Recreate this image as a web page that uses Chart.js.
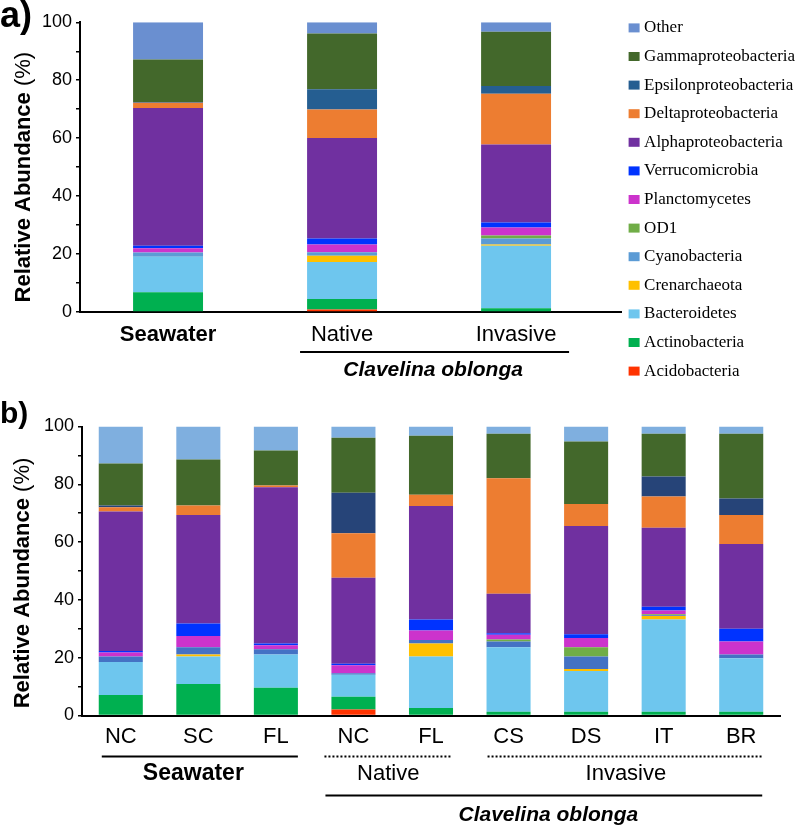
<!DOCTYPE html>
<html>
<head>
<meta charset="utf-8">
<title>Relative abundance</title>
<script src="https://cdn.jsdelivr.net/npm/chart.js@4.4.1/dist/chart.umd.min.js"></script>
<style>
  html, body { margin: 0; padding: 0; background: #fff; }
  #wrap { position: relative; width: 800px; height: 829px; overflow: hidden; }
  canvas { position: absolute; left: 0; }
  #chartA { top: 0; }
  #chartB { top: 399px; }
</style>
</head>
<body>
<div id="wrap">
  <canvas id="chartA" width="800" height="399"></canvas>
  <canvas id="chartB" width="800" height="430"></canvas>
</div>
<script>
// Taxa, listed from the bottom of each stack to the top
const taxa = ['Acidobacteria', 'Actinobacteria', 'Bacteroidetes', 'Crenarchaeota', 'Cyanobacteria', 'OD1',
  'Planctomycetes', 'Verrucomicrobia', 'Alphaproteobacteria', 'Deltaproteobacteria',
  'Epsilonproteobacteria', 'Gammaproteobacteria', 'Other'];
const coloursA = ['#ff3300', '#00b050', '#6ec6ee', '#ffc000', '#5b9bd5', '#70ad47',
  '#cc33cc', '#0033ff', '#7030a0', '#ed7d31', '#255e91', '#43682b', '#6a8fd0'];
const coloursB = ['#ff3300', '#00b050', '#6ec6ee', '#ffc000', '#4472c4', '#70ad47',
  '#cc33cc', '#0033ff', '#7030a0', '#ed7d31', '#264478', '#43682b', '#7fafdf'];

// a) pooled samples (%), same order as taxa
const sitesA = ['Seawater', 'Native', 'Invasive'];
const seawater = [0, 6.8, 12.3, 0, 1.4, 0, 1.5, 0.9, 47.5, 1.8, 0.3, 14.7, 12.8];
const native = [0.9, 3.6, 12.8, 2.1, 1.2, 0, 2.7, 2.1, 34.7, 9.8, 7.0, 19.2, 3.9];
const invasive = [0, 1.3, 21.6, 0.4, 2.1, 1.0, 2.8, 1.7, 26.9, 17.5, 2.7, 18.7, 3.3];

// b) individual sites (%)
const sitesB = ['NC', 'SC', 'FL', 'NC', 'FL', 'CS', 'DS', 'IT', 'BR'];
const swNC = [0, 7.1, 11.4, 0, 1.9, 0, 1.4, 0.5, 48.3, 1.5, 0.6, 14.5, 12.8];
const swSC = [0, 10.9, 9.5, 0.7, 2.5, 0, 3.9, 4.3, 37.6, 3.3, 0, 15.9, 11.4];
const swFL = [0, 9.6, 11.5, 0, 1.8, 0, 1.4, 0.6, 54.1, 0.6, 0, 12.1, 8.3];
const natNC = [2.1, 4.4, 7.6, 0, 0.5, 0, 2.8, 0.5, 29.8, 15.4, 14.0, 19.0, 3.9];
const natFL = [0, 2.6, 17.8, 4.5, 1.2, 0, 3.3, 3.8, 39.3, 3.9, 0, 20.4, 3.2];
const invCS = [0, 1.3, 22.3, 0, 2.0, 0.7, 1.6, 0.6, 13.6, 40.0, 0, 15.4, 2.5];
const invDS = [0, 1.3, 14.1, 0.7, 4.3, 3.2, 3.2, 1.3, 37.5, 7.6, 0, 21.6, 5.2];
const invIT = [0, 1.3, 31.9, 1.2, 0.3, 0.3, 1.3, 1.3, 27.4, 10.8, 6.9, 14.8, 2.5];
const invBR = [0, 1.3, 18.5, 0, 1.3, 0, 4.5, 4.4, 29.3, 10.1, 5.7, 22.4, 2.5];

const yTicks = [0, 20, 40, 60, 80, 100];

const SANS = '"Liberation Sans", Arial, Helvetica, sans-serif';
const SERIF = '"Liberation Serif", "Times New Roman", serif';
Chart.defaults.font.family = SANS;
Chart.defaults.color = '#000';

function buildDatasets(samples, colours, asPoints) {
  return taxa.map((name, t) => ({
    label: name,
    data: samples.map((s, i) => asPoints ? { x: i, y: s[t] } : s[t]),
    backgroundColor: colours[t],
    borderWidth: 0
  }));
}

function yAxis(width, font) {
  return {
    stacked: true,
    min: 0,
    max: 100,
    afterFit: s => { s.width = width; },
    grid: { drawOnChartArea: false, drawTicks: true, tickLength: 4, color: '#000', lineWidth: 1.5 },
    border: { display: true, color: '#000', width: 2 },
    ticks: {
      stepSize: 10,
      autoSkip: false,
      padding: 4,
      font: font,
      callback: v => yTicks.includes(v) ? v : ''
    }
  };
}

// rotated axis title, bold words followed by a plain "(%)"
function drawYTitle(ctx, cx, cy) {
  const bold = `bold 22px ${SANS}`, plain = `22px ${SANS}`;
  const first = 'Relative Abundance ', second = '(%)';
  ctx.save();
  ctx.font = bold;
  const w1 = ctx.measureText(first).width;
  ctx.font = plain;
  const w2 = ctx.measureText(second).width;
  ctx.translate(cx, cy);
  ctx.rotate(-Math.PI / 2);
  ctx.textAlign = 'left';
  ctx.textBaseline = 'middle';
  ctx.fillStyle = '#000';
  const sx = -(w1 + w2) / 2;
  ctx.font = bold;
  ctx.fillText(first, sx, 0);
  ctx.font = plain;
  ctx.fillText(second, sx + w1, 0);
  ctx.restore();
}

function hLine(ctx, x1, x2, y, dotted) {
  ctx.save();
  ctx.strokeStyle = '#000';
  ctx.lineWidth = 2;
  if (dotted) ctx.setLineDash([2, 2]);
  ctx.beginPath();
  ctx.moveTo(x1, y);
  ctx.lineTo(x2, y);
  ctx.stroke();
  ctx.restore();
}

function label(ctx, text, x, y, font) {
  ctx.save();
  ctx.font = font;
  ctx.fillStyle = '#000';
  ctx.textAlign = 'center';
  ctx.textBaseline = 'middle';
  ctx.fillText(text, x, y);
  ctx.restore();
}

const annotateA = {
  id: 'annotateA',
  afterDraw(chart) {
    const { ctx, chartArea: a, scales: { x } } = chart;
    ctx.save();
    ctx.fillStyle = '#000';
    ctx.font = `bold 36px ${SANS}`;
    ctx.textBaseline = 'alphabetic';
    ctx.fillText('a)', 0, 27);
    ctx.restore();
    drawYTitle(ctx, 24, (a.top + a.bottom) / 2 + 10);
    const nat = x.getPixelForValue(1), inv = x.getPixelForValue(2);
    hLine(ctx, nat - 42, inv + 53, a.bottom + 40, false);
    label(ctx, 'Clavelina oblonga', (nat + inv) / 2 + 4, a.bottom + 58, `italic bold 21px ${SANS}`);
  }
};

const annotateB = {
  id: 'annotateB',
  afterDraw(chart) {
    const { ctx, chartArea: a, scales: { x } } = chart;
    const px = i => x.getPixelForValue(i);
    ctx.save();
    ctx.fillStyle = '#000';
    ctx.font = `bold 30px ${SANS}`;
    ctx.textBaseline = 'alphabetic';
    ctx.fillText('b)', 0, 24);
    ctx.restore();
    drawYTitle(ctx, 23, (a.top + a.bottom) / 2 + 12);

    const y1 = a.bottom + 41, t1 = a.bottom + 58.5;
    const y2 = a.bottom + 80, t2 = a.bottom + 99.5;
    hLine(ctx, px(0) - 19, px(2) + 22, y1, false);
    label(ctx, 'Seawater', px(1) - 5, t1, `bold 23px ${SANS}`);
    hLine(ctx, px(3) - 29, px(4) + 21, y1, true);
    label(ctx, 'Native', (px(3) + px(4)) / 2 - 4, t1, `22px ${SANS}`);
    hLine(ctx, px(5) - 21, px(8) + 21, y1, true);
    label(ctx, 'Invasive', (px(5) + px(8)) / 2 + 1, t1, `22px ${SANS}`);
    hLine(ctx, px(3) - 28, px(8) + 21, y2, false);
    label(ctx, 'Clavelina oblonga', (px(3) + px(8)) / 2 + 1, t2, `italic bold 21px ${SANS}`);
  }
};

// Panel a
new Chart(document.getElementById('chartA'), {
  type: 'bar',
  data: { datasets: buildDatasets([seawater, native, invasive], coloursA, true) },
  options: {
    responsive: false,
    animation: false,
    layout: { padding: 0 },
    datasets: { bar: { barPercentage: 0.402, categoryPercentage: 1 } },
    scales: {
      x: {
        type: 'linear',
        offset: false,
        stacked: true,
        min: -0.506,
        max: 2.603,
        afterBuildTicks: s => { s.ticks = sitesA.map((_, i) => ({ value: i })); },
        afterFit: s => { s.height = 87; },
        grid: { display: false, drawTicks: false },
        border: { display: true, color: '#000', width: 2 },
        ticks: {
          padding: 10,
          maxRotation: 0,
          autoSkip: false,
          callback: v => sitesA[v],
          font: c => ({ size: 22, weight: c.index === 0 ? 'bold' : 'normal' })
        }
      },
      // tall line height pushes the plot top down to the right place
      y: yAxis(80, { size: 18, lineHeight: 2.033 })
    },
    plugins: {
      tooltip: { enabled: false },
      legend: {
        position: 'right',
        align: 'center',
        reverse: true,
        maxWidth: 179,
        labels: {
          boxWidth: 3,
          boxHeight: 1,
          padding: 11.6,
          color: '#000',
          font: { family: SERIF, size: 17 },
          generateLabels(chart) {
            const items = Chart.defaults.plugins.legend.labels.generateLabels(chart);
            items.forEach(it => {
              it.strokeStyle = it.fillStyle;
              it.lineWidth = 8;
              it.fontColor = '#000';
            });
            return items;
          }
        }
      }
    }
  },
  plugins: [annotateA]
});

// Panel b
new Chart(document.getElementById('chartB'), {
  type: 'bar',
  data: {
    labels: sitesB,
    datasets: buildDatasets([swNC, swSC, swFL, natNC, natFL, invCS, invDS, invIT, invBR], coloursB, false)
  },
  options: {
    responsive: false,
    animation: false,
    layout: { padding: { top: 27.5, right: 20, left: 0, bottom: 0 } },
    datasets: { bar: { barPercentage: 0.568, categoryPercentage: 1 } },
    scales: {
      x: {
        stacked: true,
        afterFit: s => { s.height = 113.5; },
        grid: { display: false, drawTicks: false },
        border: { display: true, color: '#000', width: 2 },
        ticks: { padding: 8.3, maxRotation: 0, autoSkip: false, font: { size: 22 } }
      },
      y: yAxis(82, { size: 18 })
    },
    plugins: {
      tooltip: { enabled: false },
      legend: { display: false }
    }
  },
  plugins: [annotateB]
});
</script>
</body>
</html>
